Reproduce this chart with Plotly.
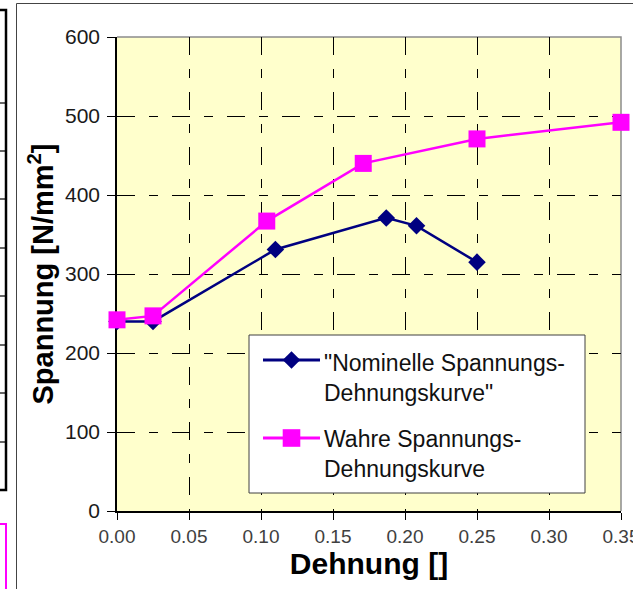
import plotly.graph_objects as go

# Stress-strain data: nominal vs. true curve
strain_nominal = [0.0, 0.025, 0.11, 0.187, 0.208, 0.25]
stress_nominal = [240, 240, 331, 371, 361, 315]

strain_true = [0.0, 0.025, 0.104, 0.171, 0.25, 0.35]
stress_true = [242, 247, 367, 440, 471, 492]

name_nominal = '"Nominelle Spannungs-<br>Dehnungskurve"'
name_true = "Wahre Spannungs-<br>Dehnungskurve"

x_title = "Dehnung []"
y_title = "Spannung [N/mm<sup>2</sup>]"

NAVY = "#000080"
MAGENTA = "#FF00FF"
FONT = "Liberation Sans, Arial, sans-serif"

# canvas and plot-area geometry (pixels)
W, H = 633, 589
L, R, T, B = 117, 621, 37, 511
PW, PH = R - L, B - T


def px(x):
    return (x - L) / PW


def py(y):
    return (B - y) / PH


fig = go.Figure()

fig.add_trace(go.Scatter(
    x=strain_nominal, y=stress_nominal, mode="lines+markers",
    line=dict(color=NAVY, width=2.5),
    marker=dict(symbol="diamond", size=13.5, color=NAVY, line=dict(width=0)),
    cliponaxis=False, showlegend=False,
))
fig.add_trace(go.Scatter(
    x=strain_true, y=stress_true, mode="lines+markers",
    line=dict(color=MAGENTA, width=2.5),
    marker=dict(symbol="square", size=17, color=MAGENTA, line=dict(width=0)),
    cliponaxis=False, showlegend=False,
))

shapes = []

# frame of the chart object
shapes.append(dict(type="path", xref="paper", yref="paper", layer="above",
                   path=f"M{px(16.5)},{py(600)} L{px(16.5)},{py(3.5)} L{px(650)},{py(3.5)}",
                   line=dict(color="#444444", width=1)))

# edge of the neighbouring table on the left
shapes.append(dict(type="rect", xref="paper", yref="paper", layer="above",
                   x0=px(-20), x1=px(6), y0=py(490), y1=py(10),
                   line=dict(color="black", width=2.5)))
for yy in [103, 151, 199, 248, 296, 345, 393, 442]:
    shapes.append(dict(type="line", xref="paper", yref="paper", layer="above",
                       x0=px(-20), x1=px(6), y0=py(yy), y1=py(yy),
                       line=dict(color="black", width=1.2)))
shapes.append(dict(type="rect", xref="paper", yref="paper", layer="above",
                   x0=px(-20), x1=px(6), y0=py(620), y1=py(524),
                   line=dict(color=MAGENTA, width=2)))

# grey border on top and right of plot area
shapes.append(dict(type="path", xref="paper", yref="paper", layer="between",
                   path="M0,1 L1,1 L1,0",
                   line=dict(color="#8c8c8c", width=1.5)))

# legend box
LX0, LX1, LY0, LY1 = 249, 585, 335, 493
shapes.append(dict(type="rect", xref="paper", yref="paper", layer="above",
                   x0=px(LX0), x1=px(LX1), y0=py(LY1), y1=py(LY0),
                   fillcolor="white", line=dict(color="#404040", width=1)))

legend_items = [
    (NAVY, "diamond", 360, 377.5, name_nominal),
    (MAGENTA, "square", 438, 454, name_true),
]
annotations = []
for color, sym, ys, yt, label in legend_items:
    shapes.append(dict(type="line", xref="paper", yref="paper", layer="above",
                       x0=px(263), x1=px(320), y0=py(ys), y1=py(ys),
                       line=dict(color=color, width=3)))
    cx = 291.5
    r = 8.8
    if sym == "diamond":
        path = (f"M{px(cx - r)},{py(ys)} L{px(cx)},{py(ys - r)} "
                f"L{px(cx + r)},{py(ys)} L{px(cx)},{py(ys + r)} Z")
    else:
        path = (f"M{px(cx - r)},{py(ys - r)} L{px(cx + r)},{py(ys - r)} "
                f"L{px(cx + r)},{py(ys + r)} L{px(cx - r)},{py(ys + r)} Z")
    shapes.append(dict(type="path", xref="paper", yref="paper", layer="above",
                       path=path, fillcolor=color, line=dict(width=0)))
    annotations.append(dict(xref="paper", yref="paper", x=px(322), y=py(yt),
                            xanchor="left", yanchor="middle", align="left",
                            showarrow=False, text=label,
                            font=dict(family=FONT, size=23, color="#111111")))

fig.update_layout(
    width=W, height=H, autosize=False,
    margin=dict(l=L, r=W - R, t=T, b=H - B, pad=0, autoexpand=False),
    paper_bgcolor="white", plot_bgcolor="#FFFFCC",
    shapes=shapes, annotations=annotations,
    font=dict(family=FONT),
)

grid_dash = "18px,14px,9px,14px"

fig.update_xaxes(
    range=[0, 0.35], dtick=0.05, tick0=0, tickformat=".2f",
    ticks="outside", ticklen=7, tickwidth=1, tickcolor="black",
    showline=True, linecolor="black", linewidth=1.5,
    showgrid=True, gridcolor="black", gridwidth=1, griddash=grid_dash,
    zeroline=False, layer="below traces",
    ticklabeloverflow="allow", automargin=False,
    tickfont=dict(family=FONT, size=19, color="#404040"),
    title=dict(text=x_title, standoff=3,
               font=dict(family=FONT, size=30, color="black", weight=700)),
)
fig.update_yaxes(
    range=[0, 600], dtick=100, tick0=0,
    ticks="outside", ticklen=8, tickwidth=1, tickcolor="black",
    showline=True, linecolor="black", linewidth=1.5,
    showgrid=True, gridcolor="black", gridwidth=1, griddash=grid_dash,
    zeroline=False, layer="below traces", automargin=False,
    ticklabelstandoff=3,
    tickfont=dict(family=FONT, size=21, color="#1a1a1a"),
    title=dict(text=y_title, standoff=3,
               font=dict(family=FONT, size=29, color="black", weight=700)),
)

fig.write_html("out.html")
